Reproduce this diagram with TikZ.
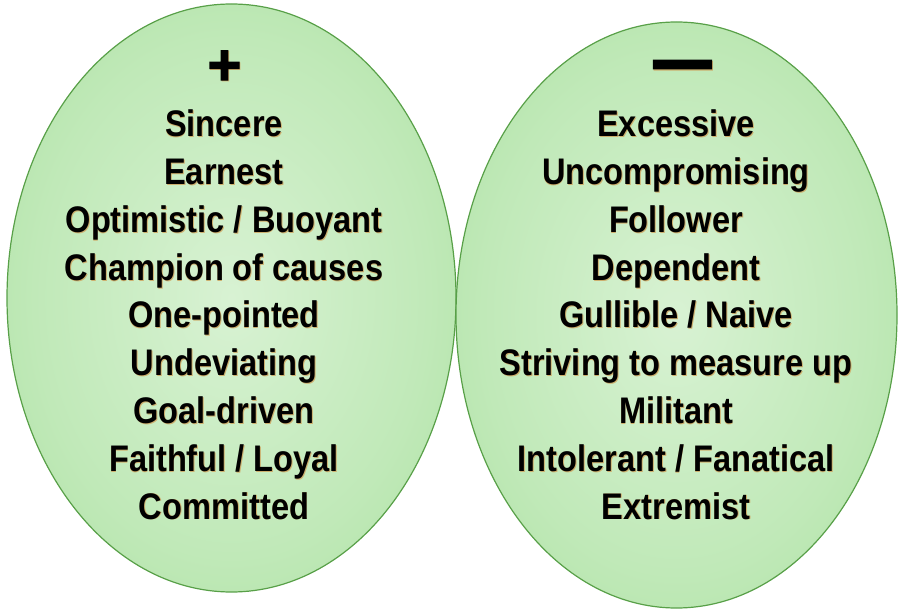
\documentclass[tikz,border=0pt]{standalone}
\usepackage{fontspec}
\setmainfont{Liberation Sans}[FakeStretch=0.88]
\newfontfamily\symfont{Liberation Sans}[FakeBold=2]
\usetikzlibrary{shapes.geometric}
\definecolor{gcenter}{RGB}{216,242,211}
\definecolor{gmid}{RGB}{192,233,184}
\definecolor{gedge}{RGB}{150,216,138}
\definecolor{gline}{RGB}{88,160,72}
\definecolor{shadowc}{RGB}{205,175,110}
\pgfdeclareradialshading{blobglow}{\pgfpoint{0bp}{0bp}}{color(0bp)=(gcenter); color(22bp)=(gmid); color(50bp)=(gedge); color(72bp)=(gedge)}
\newcommand\shd[1]{\makebox[0pt][l]{\hspace{0.8pt}\raisebox{-0.8pt}{\textcolor{shadowc}{#1}}}#1}
\tikzset{
  blob/.style={ellipse, draw=gline, line width=1.2pt, shading=blobglow, inner sep=0pt},
  lbl/.style={anchor=base, inner sep=0pt, font=\bfseries\fontsize{37}{40}\selectfont},
  sign/.style={inner sep=0pt, font=\symfont\bfseries\fontsize{58}{60}\selectfont}
}
\begin{document}
\begin{tikzpicture}[x=1pt,y=-1pt]
\useasboundingbox (0,0) rectangle (899,609);
\node[blob, minimum width=449pt, minimum height=588pt] (pos) at (231.5,298) {};
\node[blob, minimum width=441pt, minimum height=586pt] (neg) at (676.5,315) {};
\node[sign] (plus) at (224.5,68) {\shd{+}};
\node[sign] (minus) at (682.5,74) {\scalebox{1.0}[1.4]{\shd{—}}};
\foreach \t [count=\i] in {Sincere, Earnest, Optimistic / Buoyant, Champion of causes, One-pointed, Undeviating, Goal-driven, Faithful / Loyal, Committed}
  \node[lbl] (p\i) at (224, {137+47.75*(\i-1)}) {\shd{\t}};
\foreach \t [count=\i] in {Excessive, Uncompromising, Follower, Dependent, Gullible / Naive, Striving to measure up, Militant, Intolerant / Fanatical, Extremist}
  \node[lbl] (n\i) at (676, {137+47.75*(\i-1)}) {\shd{\t}};
\end{tikzpicture}
\end{document}
